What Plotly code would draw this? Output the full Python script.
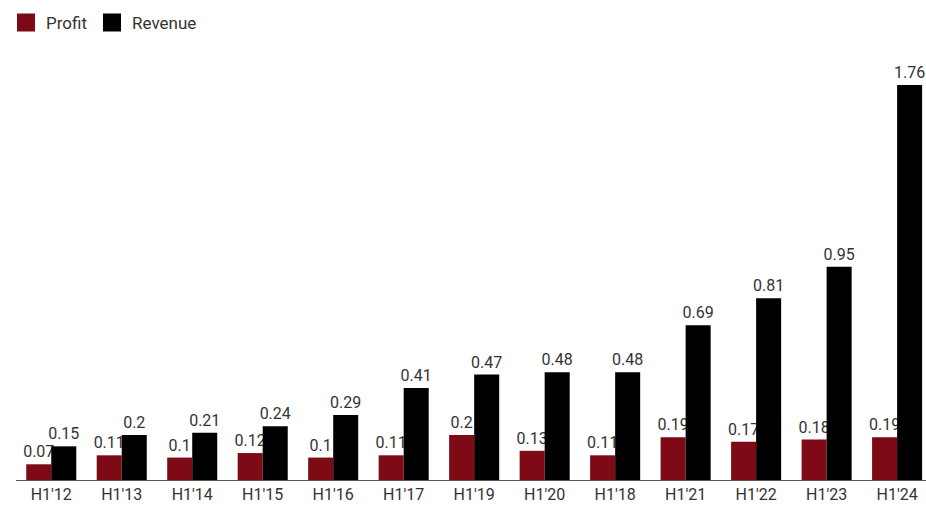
import plotly.graph_objects as go

periods = ["H1'12", "H1'13", "H1'14", "H1'15", "H1'16", "H1'17", "H1'19",
           "H1'20", "H1'18", "H1'21", "H1'22", "H1'23", "H1'24"]
profit = [0.07, 0.11, 0.1, 0.12, 0.1, 0.11, 0.2, 0.13, 0.11, 0.19, 0.17, 0.18, 0.19]
revenue = [0.15, 0.2, 0.21, 0.24, 0.29, 0.41, 0.47, 0.48, 0.48, 0.69, 0.81, 0.95, 1.76]

PROFIT_COLOR = "#7d0a14"
REVENUE_COLOR = "#000000"
label_font = dict(family="Roboto, sans-serif", size=16, color="#333333")

fig = go.Figure()
fig.add_trace(go.Bar(
    name="Profit", x=periods, y=profit, legendgroup="profit", showlegend=False,
    marker=dict(color=PROFIT_COLOR, line=dict(width=0)),
    text=[str(v) for v in profit], textposition="outside",
    textfont=label_font, constraintext="none", cliponaxis=False,
))
fig.add_trace(go.Bar(
    name="Revenue", x=periods, y=revenue, legendgroup="revenue", showlegend=False,
    marker=dict(color=REVENUE_COLOR, line=dict(width=0)),
    text=[str(v) for v in revenue], textposition="outside",
    textfont=label_font, constraintext="none", cliponaxis=False,
))

# Square swatches for the legend
for name, color, group in [("Profit", PROFIT_COLOR, "profit"),
                           ("Revenue", REVENUE_COLOR, "revenue")]:
    fig.add_trace(go.Scatter(
        name=name, x=[None], y=[None], mode="markers", legendgroup=group,
        marker=dict(symbol="square", size=16, color=color,
                    line=dict(color=color, width=2)),
        hoverinfo="skip",
    ))

fig.update_layout(
    width=926, height=509,
    margin=dict(l=16, r=0, t=76, b=29),
    paper_bgcolor="white", plot_bgcolor="white",
    barmode="group", bargap=0.29, bargroupgap=0,
    font=dict(family="Roboto, sans-serif", size=16, color="#333333"),
    showlegend=True,
    legend=dict(orientation="h", x=6 / 926, xref="container", xanchor="left",
                y=1 - 5 / 509, yref="container", yanchor="top",
                font=dict(size=17, color="#333333"),
                itemwidth=30, tracegroupgap=0, itemclick=False,
                itemdoubleclick=False),
    xaxis=dict(range=[-0.5, 12.41], showgrid=False, showline=True,
               linecolor="#555555", linewidth=1, ticks="",
               tickfont=dict(size=16, color="#333333"), fixedrange=True),
    yaxis=dict(range=[0, 1.8], visible=False, showgrid=False, zeroline=False),
)

fig.write_html("out.html")
